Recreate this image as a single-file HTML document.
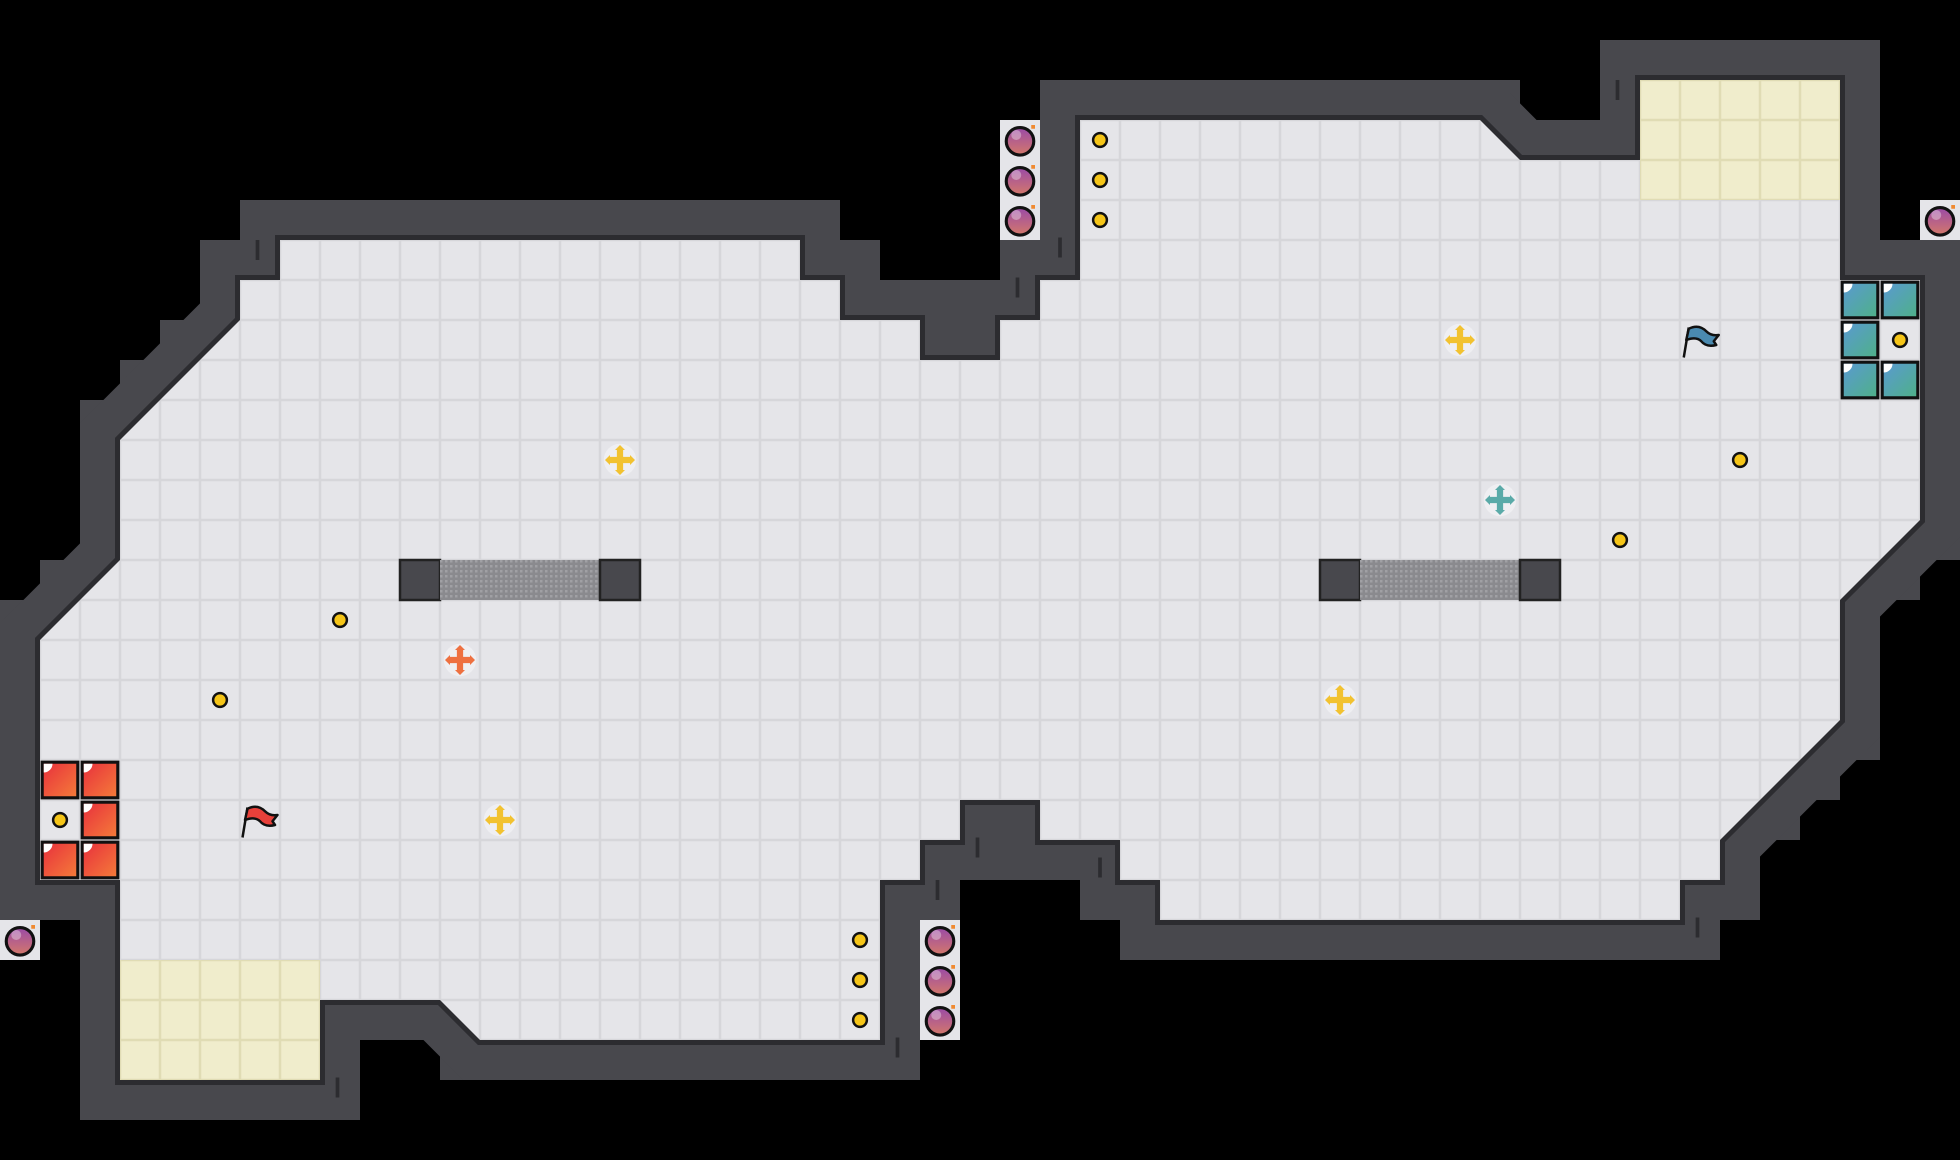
<!DOCTYPE html>
<html><head><style>html,body{margin:0;padding:0;background:#000;}svg{display:block}</style></head>
<body>
<svg width="1960" height="1160" viewBox="0 0 1568 928" xmlns="http://www.w3.org/2000/svg">
<defs>
<pattern id="g" width="32" height="32" patternUnits="userSpaceOnUse">
<rect width="32" height="32" fill="#d6d6da"/><rect x="1" y="1" width="30" height="30" fill="#e5e5e9"/></pattern>
<pattern id="y" width="32" height="32" patternUnits="userSpaceOnUse">
<rect width="32" height="32" fill="#e0dcb4"/><rect x="1" y="1" width="30" height="30" fill="#f0edcc"/></pattern>
<pattern id="grate" width="4" height="4" patternUnits="userSpaceOnUse">
<rect width="4" height="4" fill="#8a8a8e"/><rect width="2" height="2" fill="#a0a0a4"/></pattern>
<linearGradient id="rb" x1="0" y1="0" x2="1" y2="1"><stop offset="0" stop-color="#e8323c"/><stop offset="1" stop-color="#f47a3a"/></linearGradient>
<linearGradient id="bb" x1="0" y1="0" x2="1" y2="1"><stop offset="0" stop-color="#5a9ad0"/><stop offset="1" stop-color="#4fb08a"/></linearGradient>
<linearGradient id="pb" x1="0" y1="0" x2="0" y2="1"><stop offset="0" stop-color="#9a4aa8"/><stop offset="1" stop-color="#d4786a"/></linearGradient>
<g id="bomb"><rect x="0" y="0" width="32" height="32" fill="#e5e5e9"/><circle cx="16" cy="17" r="11" fill="url(#pb)" stroke="#111" stroke-width="2.5"/><circle cx="13" cy="12" r="4" fill="#fff" opacity="0.35"/><rect x="25" y="4" width="3" height="3" fill="#f08a30"/></g>
<g id="dot"><circle cx="0" cy="0" r="5.5" fill="#f5c518" stroke="#111" stroke-width="2"/></g>
<g id="rbx"><rect x="0.5" y="0.5" width="31" height="31" fill="#111"/><rect x="3" y="3" width="26" height="26" fill="url(#rb)"/><path d="M3 3h7a7 7 0 0 1-7 7z" fill="#fff"/></g>
<g id="bbx"><rect x="0.5" y="0.5" width="31" height="31" fill="#111"/><rect x="3" y="3" width="26" height="26" fill="url(#bb)"/><path d="M3 3h7a7 7 0 0 1-7 7z" fill="#fff"/></g>
<g id="plus"><circle r="13" fill="#fff" opacity="0.4"/><path d="M-2.5 -8h5v5.5h5.5v5h-5.5v5.5h-5v-5.5h-5.5v-5h5.5z" stroke-width="0"/><path d="M0 -12l-4 4h8zM0 12l-4 -4h8zM-12 0l4 -4v8zM12 0l-4 -4v8z"/></g>
</defs>
<rect width="1568" height="928" fill="#000"/>
<g fill="#48484d">
<rect x="160" y="192" width="32" height="64"/><rect x="128" y="256" width="32" height="32"/><rect x="96" y="288" width="32" height="32"/><rect x="64" y="320" width="32" height="32"/>
<rect x="64" y="416" width="32" height="32"/><rect x="32" y="448" width="32" height="32"/><rect x="0" y="480" width="32" height="32"/>
<rect x="1536" y="416" width="32" height="32"/><rect x="1504" y="448" width="32" height="32"/>
<rect x="1472" y="576" width="32" height="32"/><rect x="1440" y="608" width="32" height="32"/><rect x="1408" y="640" width="32" height="32"/><rect x="1376" y="672" width="32" height="64"/>
<rect x="1184" y="64" width="32" height="32"/>
<rect x="352" y="832" width="32" height="32"/>
</g>
<path d="M224 192H640V224H672V256H736V288H800V256H832V224H864V96H1184L1216 128H1312V64H1472V224H1536V416L1472 480V576L1376 672V704H1344V736H928V704H896V672H832V640H768V672H736V704H704V832H384L352 800H256V864H96V704H32V512L96 448V352L192 256V224H224Z" fill="#48484d" stroke="#48484d" stroke-width="64" stroke-linejoin="miter"/>
<path d="M224 192H640V224H672V256H736V288H800V256H832V224H864V96H1184L1216 128H1312V64H1472V224H1536V416L1472 480V576L1376 672V704H1344V736H928V704H896V672H832V640H768V672H736V704H704V832H384L352 800H256V864H96V704H32V512L96 448V352L192 256V224H224Z" fill="none" stroke="#2c2c30" stroke-width="8"/>
<path d="M224 192H640V224H672V256H736V288H800V256H832V224H864V96H1184L1216 128H1312V64H1472V224H1536V416L1472 480V576L1376 672V704H1344V736H928V704H896V672H832V640H768V672H736V704H704V832H384L352 800H256V864H96V704H32V512L96 448V352L192 256V224H224Z" fill="url(#g)"/>
<g stroke="#2c2c30" stroke-width="3">
<line x1="206" y1="192" x2="206" y2="208"/><line x1="1294" y1="64" x2="1294" y2="80"/><line x1="848" y1="190" x2="848" y2="206"/><line x1="814" y1="222" x2="814" y2="238"/><line x1="782" y1="670" x2="782" y2="686"/><line x1="750" y1="704" x2="750" y2="720"/><line x1="718" y1="830" x2="718" y2="846"/><line x1="270" y1="862" x2="270" y2="878"/><line x1="1358" y1="734" x2="1358" y2="750"/><line x1="880" y1="686" x2="880" y2="702"/>
</g>
<rect x="96" y="768" width="160" height="96" fill="url(#y)"/>
<rect x="1312" y="64" width="160" height="96" fill="url(#y)"/>
<rect x="320" y="448" width="32" height="32" fill="#48484d" stroke="#222" stroke-width="2"/><rect x="352" y="448" width="128" height="32" fill="url(#grate)"/><rect x="480" y="448" width="32" height="32" fill="#48484d" stroke="#222" stroke-width="2"/>
<rect x="1056" y="448" width="32" height="32" fill="#48484d" stroke="#222" stroke-width="2"/><rect x="1088" y="448" width="128" height="32" fill="url(#grate)"/><rect x="1216" y="448" width="32" height="32" fill="#48484d" stroke="#222" stroke-width="2"/>
<use href="#rbx" x="32" y="608"/><use href="#rbx" x="64" y="608"/><use href="#rbx" x="64" y="640"/><use href="#rbx" x="32" y="672"/><use href="#rbx" x="64" y="672"/>
<use href="#bbx" x="1472" y="224"/><use href="#bbx" x="1504" y="224"/><use href="#bbx" x="1472" y="256"/><use href="#bbx" x="1472" y="288"/><use href="#bbx" x="1504" y="288"/>
<use href="#bomb" x="800" y="96"/><use href="#bomb" x="800" y="128"/><use href="#bomb" x="800" y="160"/>
<use href="#bomb" x="1536" y="160"/><use href="#bomb" x="0" y="736"/>
<use href="#bomb" x="736" y="736"/><use href="#bomb" x="736" y="768"/><use href="#bomb" x="736" y="800"/>
<use href="#dot" x="880" y="112"/><use href="#dot" x="880" y="144"/><use href="#dot" x="880" y="176"/>
<use href="#dot" x="688" y="752"/><use href="#dot" x="688" y="784"/><use href="#dot" x="688" y="816"/>
<use href="#dot" x="272" y="496"/><use href="#dot" x="176" y="560"/><use href="#dot" x="1392" y="368"/><use href="#dot" x="1296" y="432"/>
<use href="#dot" x="48" y="656"/><use href="#dot" x="1520" y="272"/>
<use href="#plus" x="496" y="368" fill="#f2c230"/><use href="#plus" x="1168" y="272" fill="#f2c230"/><use href="#plus" x="1072" y="560" fill="#f2c230"/><use href="#plus" x="400" y="656" fill="#f2c230"/>
<use href="#plus" x="368" y="528" fill="#ee7040"/><use href="#plus" x="1200" y="400" fill="#5aaaa8"/>
<g stroke="#111" stroke-width="2" stroke-linejoin="round">
<line x1="194" y1="670" x2="198" y2="646"/><path d="M198 647q8-4 14 2q4 4 10 3l-4 5 2 3q-8 2-12-3q-4-4-12-1z" fill="#e8403a"/>
<line x1="1347" y1="286" x2="1351" y2="262"/><path d="M1351 263q8-4 14 2q4 4 10 3l-4 5 2 3q-8 2-12-3q-4-4-12-1z" fill="#4a8ab0"/>
</g>
</svg>
</body></html>
